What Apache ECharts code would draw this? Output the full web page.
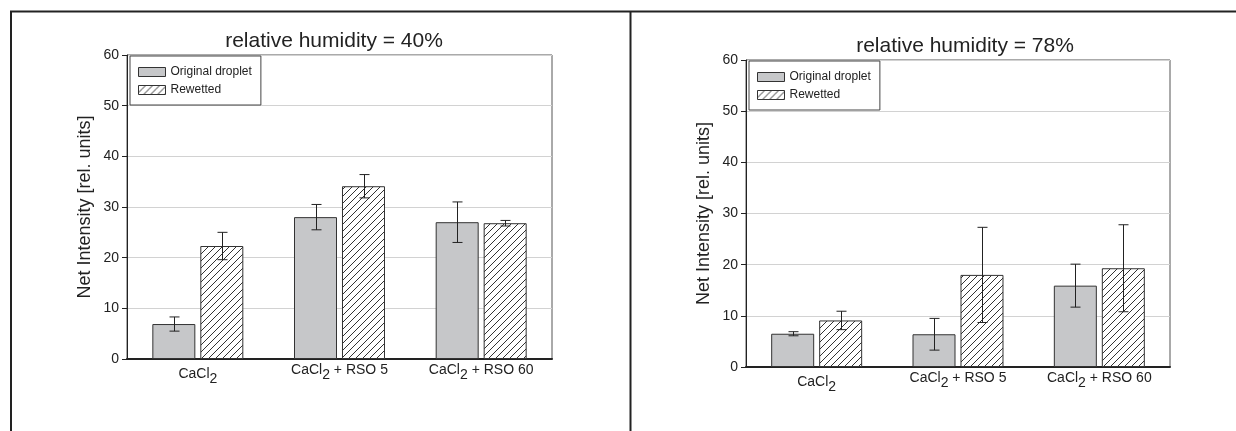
<!DOCTYPE html>
<html>
<head>
<meta charset="utf-8">
<script src="https://cdn.jsdelivr.net/npm/echarts@6/dist/echarts.min.js"></script>
<style>
    html, body { margin: 0; padding: 0; background: #fff; }
    #chart { width: 1236px; height: 431px; }
</style>
</head>
<body>
<div id="chart"></div>
<script>
    // data
    var categories = ['CaCl2', 'CaCl2 + RSO 5', 'CaCl2 + RSO 60'];
    var yTicks = [0, 10, 20, 30, 40, 50, 60];

    // relative humidity = 40%
    var orig40 = [6.9, 28.0, 27.0];
    var orig40Err = [1.4, 2.5, 4.0];
    var rew40 = [22.3, 34.1, 26.8];
    var rew40Err = [2.7, 2.3, 0.55];

    // relative humidity = 78%
    var orig78 = [6.5, 6.4, 15.9];
    var orig78Err = [0.4, 3.1, 4.2];
    var rew78 = [9.1, 18.0, 19.3];
    var rew78Err = [1.8, 9.3, 8.5];

    var font = 'Liberation Sans, Arial, sans-serif';
    var ink = '#222';
    var grayFill = '#c6c7c9';
    var barW = 43;
    var gapPx = 5;

    // hatch "////" pattern for the rewetted bars
    function hatch() {
        var c = document.createElement('canvas');
        var s = 7;
        c.width = s; c.height = s;
        var ctx = c.getContext('2d');
        ctx.fillStyle = '#fff';
        ctx.fillRect(0, 0, s, s);
        ctx.strokeStyle = '#333';
        ctx.lineWidth = 1;
        ctx.beginPath();
        ctx.moveTo(0, s); ctx.lineTo(s, 0);
        ctx.moveTo(-1, 1); ctx.lineTo(1, -1);
        ctx.moveTo(s - 1, s + 1); ctx.lineTo(s + 1, s - 1);
        ctx.stroke();
        return {image: c, repeat: 'repeat'};
    }
    var hatchFill = hatch();

    function errPoints(vals, errs) {
        return vals.map(function (v, i) {
            return [i, v, errs[i]];
        });
    }

    function errRender(offset) {
        return function (params, api) {
            var i = api.value(0);
            var v = api.value(1);
            var e = api.value(2);
            var hi = api.coord([i, v + e]);
            var lo = api.coord([i, v - e]);
            var x = Math.round(hi[0] + offset) + 0.5;
            var cap = 5;
            var st = {stroke: ink, lineWidth: 1};
            return {
                type: 'group',
                children: [
                    {type: 'line', shape: {x1: x, y1: hi[1], x2: x, y2: lo[1]}, style: st},
                    {type: 'line', shape: {x1: x - cap, y1: hi[1], x2: x + cap, y2: hi[1]}, style: st},
                    {type: 'line', shape: {x1: x - cap, y1: lo[1], x2: x + cap, y2: lo[1]}, style: st}
                ]
            };
        };
    }

    var catData = categories.map(function (c, i) {
        return i === 0 ? {value: c, textStyle: {padding: [4, 0, 0, 0]}} : c;
    });

    function xAxisOf(idx) {
        return {
            type: 'category',
            gridIndex: idx,
            data: catData,
            axisTick: {show: false},
            axisLine: {lineStyle: {color: ink, width: 2}},
            axisLabel: {
                interval: 0,
                hideOverlap: false,
                margin: 4,
                formatter: function (v) {
                    return '{a|CaCl}{s|2}{a|' + v.slice(5) + '}';
                },
                rich: {
                    a: {fontSize: 14, fontFamily: font, color: ink, lineHeight: 17, verticalAlign: 'top'},
                    s: {fontSize: 14, fontFamily: font, color: ink, lineHeight: 17, verticalAlign: 'top', padding: [5, 0, 0, 0]}
                }
            }
        };
    }

    function yAxisOf(idx) {
        return {
            type: 'value',
            gridIndex: idx,
            min: yTicks[0],
            max: yTicks[yTicks.length - 1],
            interval: 10,
            name: 'Net Intensity [rel. units]',
            nameLocation: 'middle',
            nameGap: 33,
            nameTextStyle: {fontSize: 18, fontFamily: font, color: ink},
            axisLine: {show: true, lineStyle: {color: ink, width: 1}},
            axisTick: {show: true, length: 5, lineStyle: {color: ink}},
            axisLabel: {fontSize: 14, fontFamily: font, color: ink, margin: 8},
            splitLine: {show: true, lineStyle: {color: '#d2d2d2', width: 1}}
        };
    }

    function barSeries(name, vals, idx, fill) {
        return {
            name: name,
            type: 'bar',
            xAxisIndex: idx,
            yAxisIndex: idx,
            barWidth: barW,
            barGap: (gapPx / barW * 100).toFixed(1) + '%',
            data: vals,
            itemStyle: {color: fill, borderColor: '#333', borderWidth: 1},
            emphasis: {disabled: true}
        };
    }

    function errSeries(vals, errs, idx, offset) {
        return {
            type: 'custom',
            xAxisIndex: idx,
            yAxisIndex: idx,
            z: 5,
            encode: {x: 0, y: 1},
            data: errPoints(vals, errs),
            renderItem: errRender(offset)
        };
    }

    function legendAt(left, top) {
        return {
            left: left,
            top: top,
            orient: 'vertical',
            itemWidth: 27,
            itemHeight: 9,
            itemGap: 6,
            padding: [10, 9, 9, 8],
            borderColor: '#444',
            borderWidth: 1,
            backgroundColor: '#fff',
            selectedMode: false,
            textStyle: {fontSize: 12, fontFamily: font, color: ink},
            data: [
                {name: 'Original droplet', icon: 'rect', itemStyle: {color: grayFill, borderColor: '#333', borderWidth: 1}},
                {name: 'Rewetted', icon: 'rect', itemStyle: {color: hatchFill, borderColor: '#333', borderWidth: 1}}
            ]
        };
    }

    var half = (barW + gapPx) / 2;
    var chart = echarts.init(document.getElementById('chart'));
    var option = {
        animation: false,
        backgroundColor: '#fff',
        title: [
            {text: 'relative humidity = 40%', left: 329, top: 26, textAlign: 'center',
                textStyle: {fontSize: 21, fontWeight: 'normal', fontFamily: font, color: ink}},
            {text: 'relative humidity = 78%', left: 960, top: 31, textAlign: 'center',
                textStyle: {fontSize: 21, fontWeight: 'normal', fontFamily: font, color: ink}}
        ],
        legend: [legendAt(130, 56), legendAt(749, 61)],
        grid: [
            {left: 127, top: 55, width: 425, height: 304, show: true, borderColor: '#555', borderWidth: 1, backgroundColor: '#fff'},
            {left: 746, top: 60, width: 424, height: 307, show: true, borderColor: '#555', borderWidth: 1, backgroundColor: '#fff'}
        ],
        xAxis: [xAxisOf(0), xAxisOf(1)],
        yAxis: [yAxisOf(0), yAxisOf(1)],
        series: [
            barSeries('Original droplet', orig40, 0, grayFill),
            barSeries('Rewetted', rew40, 0, hatchFill),
            barSeries('Original droplet', orig78, 1, grayFill),
            barSeries('Rewetted', rew78, 1, hatchFill),
            errSeries(orig40, orig40Err, 0, -half),
            errSeries(rew40, rew40Err, 0, half),
            errSeries(orig78, orig78Err, 1, -half),
            errSeries(rew78, rew78Err, 1, half)
        ],
        // frame lines of the figure panel
        graphic: [
            {type: 'line', shape: {x1: 10, y1: 11.5, x2: 1236, y2: 11.5}, style: {stroke: ink, lineWidth: 2}},
            {type: 'line', shape: {x1: 11, y1: 11, x2: 11, y2: 431}, style: {stroke: ink, lineWidth: 2}},
            {type: 'line', shape: {x1: 630.5, y1: 11, x2: 630.5, y2: 431}, style: {stroke: ink, lineWidth: 2}}
        ]
    };
    chart.setOption(option);
</script>
</body>
</html>
